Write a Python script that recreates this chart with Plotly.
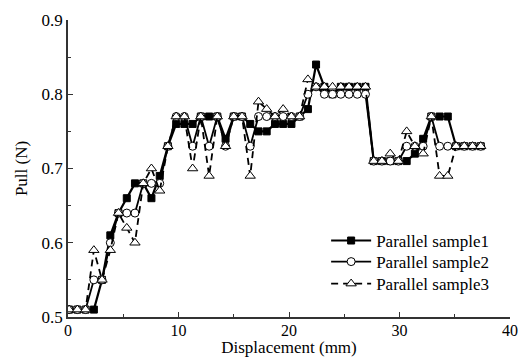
import plotly.graph_objects as go

displacement = [0.10, 0.85, 1.59, 2.34, 3.08, 3.83, 4.57, 5.32, 6.06, 6.81,
                7.55, 8.30, 9.04, 9.79, 10.53, 11.28, 12.02, 12.77, 13.51, 14.26,
                15.00, 15.75, 16.49, 17.24, 17.98, 18.73, 19.47, 20.22, 20.96, 21.71,
                22.45, 23.20, 23.94, 24.69, 25.43, 26.18, 26.92, 27.67, 28.41, 29.16,
                29.90, 30.65, 31.39, 32.14, 32.88, 33.63, 34.37, 35.12, 35.86, 36.61,
                37.35]

sample1 = [0.51, 0.51, 0.51, 0.51, 0.55, 0.61, 0.64, 0.66, 0.68, 0.68,
           0.66, 0.69, 0.73, 0.76, 0.76, 0.76, 0.77, 0.77, 0.77, 0.74,
           0.77, 0.77, 0.76, 0.75, 0.75, 0.76, 0.76, 0.76, 0.77, 0.78,
           0.84, 0.81, 0.80, 0.81, 0.81, 0.81, 0.81, 0.71, 0.71, 0.71,
           0.71, 0.71, 0.72, 0.74, 0.77, 0.77, 0.77, 0.73, 0.73, 0.73,
           0.73]

sample2 = [0.51, 0.51, 0.51, 0.55, 0.55, 0.60, 0.64, 0.64, 0.64, 0.68,
           0.68, 0.68, 0.73, 0.77, 0.77, 0.73, 0.77, 0.73, 0.77, 0.73,
           0.77, 0.77, 0.73, 0.77, 0.77, 0.77, 0.77, 0.77, 0.77, 0.80,
           0.81, 0.80, 0.80, 0.80, 0.80, 0.80, 0.80, 0.71, 0.71, 0.71,
           0.71, 0.73, 0.73, 0.73, 0.77, 0.73, 0.73, 0.73, 0.73, 0.73,
           0.73]

sample3 = [0.51, 0.51, 0.51, 0.59, 0.55, 0.59, 0.64, 0.62, 0.60, 0.68,
           0.70, 0.67, 0.73, 0.77, 0.77, 0.70, 0.77, 0.69, 0.77, 0.73,
           0.77, 0.77, 0.69, 0.79, 0.78, 0.77, 0.78, 0.77, 0.77, 0.82,
           0.81, 0.81, 0.81, 0.81, 0.81, 0.81, 0.81, 0.71, 0.71, 0.72,
           0.71, 0.75, 0.73, 0.72, 0.77, 0.69, 0.69, 0.73, 0.73, 0.73,
           0.73]

names = ["Parallel sample1", "Parallel sample2", "Parallel sample3"]

FONT = "Times New Roman, Liberation Serif, DejaVu Serif, serif"

fig = go.Figure()
fig.add_trace(go.Scatter(
    x=displacement, y=sample1, name=names[0], mode="lines+markers", legend="legend",
    line=dict(color="black", width=2.2),
    marker=dict(symbol="square", size=7, color="black",
                line=dict(color="black", width=1))))
fig.add_trace(go.Scatter(
    x=displacement, y=sample2, name=names[1], mode="lines+markers", legend="legend2",
    line=dict(color="black", width=1.8),
    marker=dict(symbol="circle", size=8, color="white",
                line=dict(color="black", width=1))))
fig.add_trace(go.Scatter(
    x=displacement, y=sample3, name=names[2], mode="lines+markers", legend="legend3",
    line=dict(color="black", width=1.8, dash="7px,5px"),
    marker=dict(symbol="triangle-up", size=9, color="white",
                line=dict(color="black", width=1))))

axis_common = dict(
    showline=True, linecolor="#333", linewidth=1.5, mirror=False,
    ticks="inside", ticklen=5, tickwidth=1.2, tickcolor="#333",
    showgrid=False, zeroline=False, automargin=False,
)

fig.update_xaxes(
    range=[0, 40], dtick=10, tick0=0,
    tickfont=dict(family=FONT, size=16, color="black"),
    ticklabelstandoff=-2,
    minor=dict(dtick=5, ticks="inside", ticklen=3, tickcolor="#333"),
    title=dict(text="Displacement (mm)", font=dict(family=FONT, size=17, color="black"),
               standoff=2),
    **axis_common)
fig.update_yaxes(
    range=[0.5, 0.9], dtick=0.1, tick0=0.5, tickformat=".1f",
    tickfont=dict(family=FONT, size=17, color="black"),
    minor=dict(dtick=0.05, ticks="inside", ticklen=3, tickcolor="#333"),
    title=dict(text="Pull (N)", font=dict(family=FONT, size=17, color="black"),
               standoff=10),
    **axis_common)

legend_common = dict(xanchor="left", yanchor="middle", bgcolor="rgba(255,255,255,0)",
                     borderwidth=0, font=dict(family=FONT, size=17, color="black"),
                     itemwidth=40)
row_y = [0.256, 0.185, 0.111]

fig.update_layout(
    template="none",
    width=520, height=357,
    margin=dict(l=68, r=10, t=20, b=40, autoexpand=False),
    plot_bgcolor="white", paper_bgcolor="white",
    font=dict(family=FONT, size=17, color="black"),
    legend=dict(x=0.584, y=row_y[0], **legend_common),
    legend2=dict(x=0.584, y=row_y[1], **legend_common),
    legend3=dict(x=0.584, y=row_y[2], **legend_common),
    showlegend=True,
)

fig.write_html("out.html", config={"displayModeBar": False},
               post_script="document.body.style.margin='0';document.body.style.overflow='hidden';")
